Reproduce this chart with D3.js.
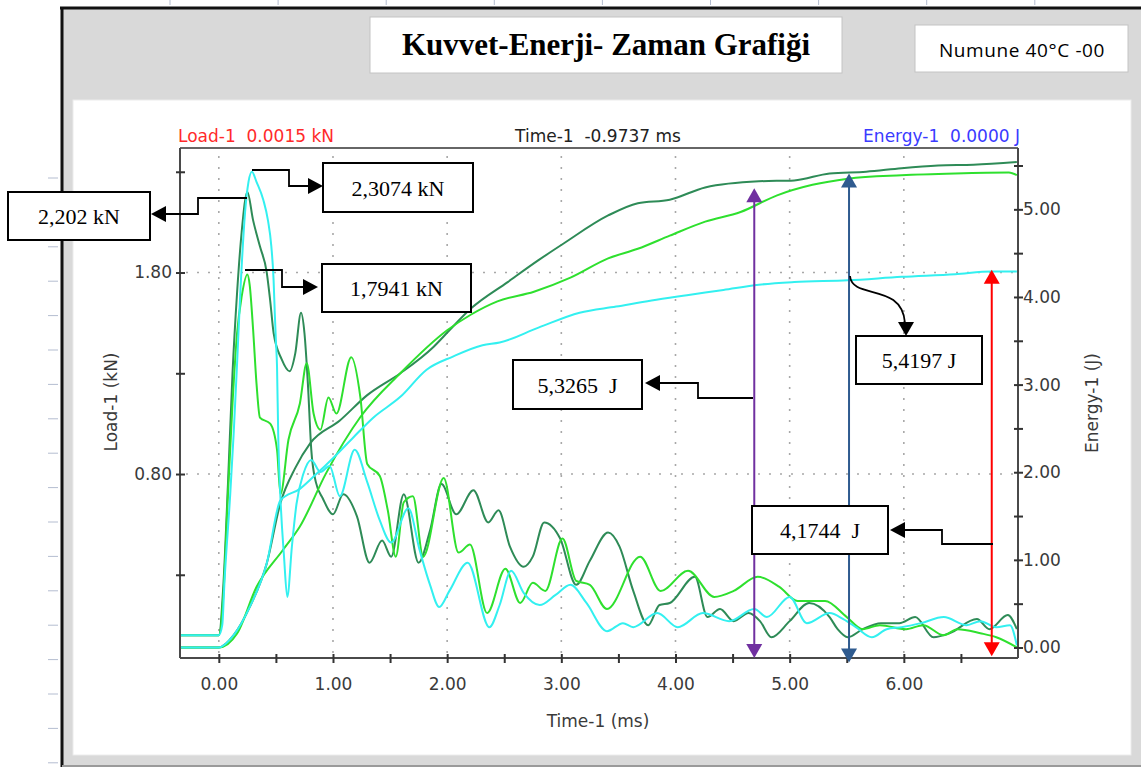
<!DOCTYPE html>
<html>
<head>
<meta charset="utf-8">
<script src="https://cdn.jsdelivr.net/npm/d3@7/dist/d3.min.js"></script>
<style>
  body { margin: 0; background: #fff; }
  svg text { font-family: "DejaVu Sans", sans-serif; }
  .pre { white-space: pre; }
</style>
</head>
<body>
<svg id="chart" width="1141" height="767"></svg>
<script>
// ticks
const timeTicks = [0, 1, 2, 3, 4, 5, 6];
const timeMinor = [0.5, 1.5, 2.5, 3.5, 4.5, 5.5, 6.5];
const loadTicks = [0.8, 1.8];
const loadMinor = [0.3, 1.3, 2.3];
const energyTicks = [0, 1, 2, 3, 4, 5];
const energyMinor = [0.5, 1.5, 2.5, 3.5, 4.5, 5.5];

// load curves (kN) vs time (ms)
const darkLoadT = [-0.34, 0.00, 0.04, 0.08, 0.12, 0.16, 0.20, 0.25, 0.30, 0.36, 0.42, 0.45, 0.48, 0.55, 0.62, 0.67, 0.72, 0.75, 0.78, 0.81, 0.85, 0.91, 1.00, 1.09, 1.21, 1.32, 1.43, 1.51, 1.62, 1.75, 1.85, 1.95, 2.08, 2.23, 2.36, 2.45, 2.55, 2.67, 2.75, 2.85, 2.99, 3.13, 3.25, 3.41, 3.51, 3.63, 3.76, 3.86, 3.95, 4.17, 4.28, 4.39, 4.51, 4.64, 4.74, 4.84, 5.00, 5.17, 5.35, 5.42, 5.51, 5.64, 5.80, 5.96, 6.10, 6.26, 6.40, 6.64, 6.75, 6.91, 6.99];
const darkLoad  = [0.00, 0.00, 0.25, 0.75, 1.30, 1.70, 2.00, 2.20, 2.06, 1.93, 1.80, 1.66, 1.50, 1.37, 1.31, 1.40, 1.60, 1.50, 1.25, 0.92, 0.76, 0.68, 0.60, 0.70, 0.59, 0.36, 0.47, 0.39, 0.70, 0.36, 0.52, 0.75, 0.60, 0.72, 0.56, 0.62, 0.44, 0.34, 0.39, 0.56, 0.48, 0.25, 0.37, 0.51, 0.44, 0.22, 0.05, 0.15, 0.16, 0.29, 0.09, 0.13, 0.07, 0.11, 0.07, -0.01, 0.07, 0.16, 0.09, 0.03, -0.01, 0.03, 0.06, 0.06, 0.09, -0.01, 0.01, 0.08, 0.03, 0.10, 0.03];

const brightLoadT = [-0.34, 0.00, 0.04, 0.08, 0.12, 0.16, 0.20, 0.25, 0.27, 0.30, 0.33, 0.36, 0.45, 0.51, 0.54, 0.61, 0.71, 0.77, 0.83, 0.89, 0.96, 1.03, 1.16, 1.24, 1.30, 1.41, 1.48, 1.55, 1.62, 1.70, 1.79, 1.97, 2.10, 2.20, 2.35, 2.51, 2.64, 2.75, 2.86, 3.01, 3.13, 3.25, 3.40, 3.69, 3.87, 4.11, 4.34, 4.51, 4.72, 4.91, 5.07, 5.31, 5.50, 5.64, 5.79, 6.02, 6.17, 6.35, 6.47, 6.67, 6.81, 6.99];
const brightLoad  = [0.00, 0.00, 0.20, 0.70, 1.15, 1.50, 1.68, 1.79, 1.74, 1.52, 1.25, 1.08, 1.05, 0.92, 0.70, 0.97, 1.15, 1.35, 1.10, 1.02, 1.18, 1.10, 1.38, 1.18, 0.85, 0.79, 0.62, 0.39, 0.66, 0.69, 0.39, 0.78, 0.41, 0.45, 0.11, 0.33, 0.16, 0.26, 0.22, 0.48, 0.27, 0.25, 0.13, 0.39, 0.22, 0.32, 0.19, 0.22, 0.29, 0.24, 0.17, 0.17, 0.09, 0.03, 0.05, 0.03, 0.05, 0.00, 0.03, 0.01, -0.01, -0.06];

const cyanLoadT = [-0.34, 0.00, 0.03, 0.05, 0.10, 0.13, 0.16, 0.19, 0.23, 0.26, 0.29, 0.33, 0.39, 0.43, 0.46, 0.48, 0.49, 0.50, 0.51, 0.52, 0.54, 0.57, 0.60, 0.64, 0.68, 0.74, 0.81, 0.89, 0.97, 1.06, 1.19, 1.30, 1.41, 1.51, 1.66, 1.76, 1.85, 1.93, 2.02, 2.18, 2.37, 2.46, 2.56, 2.67, 2.81, 2.95, 3.08, 3.22, 3.40, 3.54, 3.63, 3.84, 4.02, 4.24, 4.47, 4.69, 4.80, 5.00, 5.15, 5.35, 5.47, 5.58, 5.72, 5.85, 5.98, 6.15, 6.35, 6.55, 6.67, 6.81, 6.93, 6.99];
const cyanLoad  = [0.00, 0.00, 0.05, 0.27, 0.70, 1.00, 1.35, 1.72, 2.10, 2.25, 2.30, 2.25, 2.16, 2.06, 1.93, 1.76, 1.60, 1.46, 1.33, 1.00, 0.68, 0.40, 0.19, 0.44, 0.65, 0.80, 0.87, 0.81, 0.84, 0.69, 0.92, 0.76, 0.57, 0.46, 0.63, 0.42, 0.25, 0.14, 0.22, 0.36, 0.04, 0.15, 0.32, 0.21, 0.15, 0.20, 0.25, 0.16, 0.02, 0.06, 0.04, 0.11, 0.04, 0.11, 0.07, 0.13, 0.09, 0.19, 0.06, 0.11, 0.08, 0.04, -0.01, 0.03, 0.04, 0.06, 0.09, 0.05, 0.07, 0.04, 0.05, -0.05];

// energy curves (J) vs time (ms)
const darkEnergyT = [-0.34, 0.00, 0.13, 0.27, 0.42, 0.54, 0.67, 0.80, 1.06, 1.30, 1.59, 1.88, 2.02, 2.21, 2.53, 2.80, 3.02, 3.41, 3.67, 3.95, 4.26, 4.73, 5.04, 5.35, 5.67, 5.98, 6.30, 6.61, 6.99];
const darkEnergy  = [0.00, 0.00, 0.14, 0.46, 0.96, 1.65, 2.05, 2.33, 2.59, 2.88, 3.13, 3.43, 3.62, 3.87, 4.17, 4.42, 4.61, 4.93, 5.07, 5.11, 5.25, 5.32, 5.33, 5.41, 5.43, 5.47, 5.50, 5.51, 5.54];

const brightEnergyT = [-0.34, 0.00, 0.16, 0.33, 0.56, 0.71, 0.94, 1.24, 1.59, 2.00, 2.21, 2.44, 2.76, 3.08, 3.41, 3.67, 3.95, 4.26, 4.57, 4.89, 5.20, 5.51, 5.98, 6.45, 6.92, 6.99];
const brightEnergy  = [0.00, 0.00, 0.16, 0.69, 1.11, 1.38, 1.99, 2.63, 3.13, 3.62, 3.80, 3.95, 4.06, 4.22, 4.44, 4.55, 4.70, 4.86, 4.97, 5.16, 5.28, 5.35, 5.39, 5.41, 5.42, 5.39];

const cyanEnergyT = [-0.34, 0.00, 0.13, 0.27, 0.42, 0.54, 0.71, 0.83, 1.00, 1.18, 1.35, 1.59, 1.82, 2.05, 2.31, 2.46, 2.80, 3.16, 3.48, 3.79, 4.10, 4.42, 4.73, 5.04, 5.51, 5.98, 6.45, 6.77, 6.99];
const cyanEnergy  = [0.00, 0.00, 0.14, 0.46, 0.96, 1.68, 1.81, 1.95, 2.16, 2.40, 2.62, 2.86, 3.17, 3.32, 3.45, 3.48, 3.65, 3.82, 3.89, 3.96, 4.02, 4.08, 4.14, 4.17, 4.19, 4.23, 4.26, 4.29, 4.29];

// marker arrows (time, energy at top tip, energy at bottom tip)
const arrowT    = [4.69, 5.52, 6.77];
const arrowTopE = [5.24, 5.41, 4.31];
const arrowBotE = [-0.12, -0.17, -0.10];
const arrowColors = ["#7030a0", "#2f5b8f", "#ff0000"];

const headerLabels = ["Load-1  0.0015 kN", "Time-1  -0.9737 ms", "Energy-1  0.0000 J"];
const noteLabels = ["2,202 kN", "2,3074 kN", "1,7941 kN", "5,3265  J", "5,4197 J", "4,1744  J"];

const svg = d3.select("#chart");
const plot = { left: 180, right: 1018, top: 148, bottom: 658 };

const x = d3.scaleLinear().domain([-0.34, 7.0]).range([plot.left, plot.right]);
const yL = d3.scaleLinear().domain([-0.113, 2.418]).range([plot.bottom, plot.top]);
const yE = d3.scaleLinear().domain([-0.12, 5.70]).range([plot.bottom, plot.top]);

// page frame (document ruler ticks, grey panel)
svg.append("g").selectAll("line").data(d3.range(9)).enter().append("line")
  .attr("x1", d => 170 + d * 108.1).attr("x2", d => 170 + d * 108.1)
  .attr("y1", 0).attr("y2", 5).attr("stroke", "#b4bdd0");
svg.append("g").selectAll("line").data(d3.range(18)).enter().append("line")
  .attr("x1", 48).attr("x2", 58)
  .attr("y1", d => 178 + d * 34.4).attr("y2", d => 178 + d * 34.4).attr("stroke", "#b4bdd0");

svg.append("rect").attr("x", 62).attr("y", 8).attr("width", 1090).attr("height", 760).attr("fill", "#d9d9d9");
svg.append("line").attr("x1", 60).attr("x2", 1141).attr("y1", 8).attr("y2", 8).attr("stroke", "#111").attr("stroke-width", 3);
svg.append("line").attr("x1", 62).attr("x2", 62).attr("y1", 7).attr("y2", 767).attr("stroke", "#111").attr("stroke-width", 3);
svg.append("line").attr("x1", 62).attr("x2", 1141).attr("y1", 766).attr("y2", 766).attr("stroke", "#9a9a9a").attr("stroke-width", 2);
svg.append("rect").attr("x", 73).attr("y", 100).attr("width", 1058).attr("height", 655)
  .attr("fill", "#fff").attr("stroke", "#ececec");

// title boxes
svg.append("rect").attr("x", 370).attr("y", 17).attr("width", 472).attr("height", 56)
  .attr("fill", "#fff").attr("stroke", "#c4c4c4");
svg.append("text").attr("x", 606).attr("y", 55).attr("text-anchor", "middle")
  .style("font-family", "'Liberation Serif', serif").style("font-weight", "bold")
  .style("font-size", "31px").text("Kuvvet-Enerji- Zaman Grafiği");
svg.append("rect").attr("x", 915).attr("y", 25).attr("width", 213).attr("height", 47)
  .attr("fill", "#fff").attr("stroke", "#c4c4c4");
svg.append("text").attr("x", 1022).attr("y", 57).attr("text-anchor", "middle")
  .style("font-family", "'Open Sans', sans-serif").style("font-size", "19px")
  .style("letter-spacing", "0.6px").text("Numune 40°C -00");

// header readouts
svg.append("text").attr("class", "pre").attr("x", 178).attr("y", 142).attr("fill", "#ff2a2a")
  .style("font-size", "17px").text(headerLabels[0]);
svg.append("text").attr("class", "pre").attr("x", 598).attr("y", 142).attr("text-anchor", "middle")
  .attr("fill", "#222").style("font-size", "17px").text(headerLabels[1]);
svg.append("text").attr("class", "pre").attr("x", 1020).attr("y", 142).attr("text-anchor", "end")
  .attr("fill", "#3a3aff").style("font-size", "17px").text(headerLabels[2]);

// grid
const grid = svg.append("g").attr("stroke", "#a8a8a8").attr("stroke-width", 1.6).attr("stroke-dasharray", "2,9");
grid.selectAll(".gv").data(timeTicks).enter().append("line")
  .attr("x1", d => x(d)).attr("x2", d => x(d)).attr("y1", plot.top + 8).attr("y2", plot.bottom - 4);
grid.selectAll(".gh").data(loadTicks).enter().append("line")
  .attr("x1", plot.left + 6).attr("x2", plot.right - 4).attr("y1", d => yL(d)).attr("y2", d => yL(d));

// curves
svg.append("clipPath").attr("id", "clip").append("rect")
  .attr("x", plot.left).attr("y", plot.top).attr("width", plot.right - plot.left).attr("height", plot.bottom - plot.top);
const curves = svg.append("g").attr("clip-path", "url(#clip)").attr("fill", "none").attr("stroke-width", 2);
const lineL = d3.line().x(d => x(d[0])).y(d => yL(d[1])).curve(d3.curveMonotoneX);
const lineE = d3.line().x(d => x(d[0])).y(d => yE(d[1])).curve(d3.curveMonotoneX);
const zip = (a, b) => a.map((t, i) => [t, b[i]]);

const series = [
  { color: "#2e8b57", load: zip(darkLoadT, darkLoad), energy: zip(darkEnergyT, darkEnergy) },
  { color: "#2ee02e", load: zip(brightLoadT, brightLoad), energy: zip(brightEnergyT, brightEnergy) },
  { color: "#33f0f0", load: zip(cyanLoadT, cyanLoad), energy: zip(cyanEnergyT, cyanEnergy) }
];
series.forEach(s => {
  curves.append("path").attr("d", lineL(s.load)).attr("stroke", s.color);
  curves.append("path").attr("d", lineE(s.energy)).attr("stroke", s.color);
});

// frame lines
const frame = svg.append("g").attr("stroke", "#4a4a4a").attr("stroke-width", 2);
frame.append("line").attr("x1", plot.left).attr("x2", plot.right).attr("y1", plot.top).attr("y2", plot.top).attr("stroke", "#666");
frame.append("line").attr("x1", plot.left).attr("x2", plot.left).attr("y1", plot.top).attr("y2", plot.bottom);
frame.append("line").attr("x1", plot.right).attr("x2", plot.right).attr("y1", plot.top).attr("y2", plot.bottom);
frame.append("line").attr("x1", plot.left).attr("x2", plot.right).attr("y1", plot.bottom).attr("y2", plot.bottom);

// axes
function styleAxis(g, dir) {
  g.select(".domain").remove();
  g.selectAll(".tick line").attr("stroke", "#333").attr("stroke-width", 2);
  if (dir === "x") g.selectAll(".tick line").attr("y1", -4).attr("y2", 5);
  else g.selectAll(".tick line").attr("x1", -4).attr("x2", 5);
  g.selectAll("text").attr("fill", "#3a3a3a").style("font-size", "17px")
    .style("font-family", "'DejaVu Sans', sans-serif");
}
const fmt = d3.format(".2f");
svg.append("g").attr("transform", `translate(0,${plot.bottom})`)
  .call(d3.axisBottom(x).tickValues(timeMinor).tickFormat("").tickSize(5))
  .call(g => styleAxis(g, "x"));
svg.append("g").attr("transform", `translate(0,${plot.bottom})`)
  .call(d3.axisBottom(x).tickValues(timeTicks).tickFormat(fmt).tickSize(5).tickPadding(15))
  .call(g => styleAxis(g, "x"));
svg.append("g").attr("transform", `translate(${plot.left},0)`)
  .call(d3.axisLeft(yL).tickValues(loadMinor).tickFormat("").tickSize(4))
  .call(g => styleAxis(g, "y"));
svg.append("g").attr("transform", `translate(${plot.left},0)`)
  .call(d3.axisLeft(yL).tickValues(loadTicks).tickFormat(fmt).tickSize(4).tickPadding(4))
  .call(g => styleAxis(g, "y"));
svg.append("g").attr("transform", `translate(${plot.right},0)`)
  .call(d3.axisRight(yE).tickValues(energyMinor).tickFormat("").tickSize(5))
  .call(g => styleAxis(g, "y"));
svg.append("g").attr("transform", `translate(${plot.right},0)`)
  .call(d3.axisRight(yE).tickValues(energyTicks).tickFormat(fmt).tickSize(5).tickPadding(0))
  .call(g => styleAxis(g, "y"));

// axis titles
svg.append("text").attr("x", 598).attr("y", 727).attr("text-anchor", "middle")
  .attr("fill", "#3a3a3a").style("font-size", "17px").text("Time-1 (ms)");
svg.append("text").attr("transform", "translate(117,402) rotate(-90)").attr("text-anchor", "middle")
  .attr("fill", "#3a3a3a").style("font-size", "17px").text("Load-1 (kN)");
svg.append("text").attr("transform", "translate(1098,403) rotate(-90)").attr("text-anchor", "middle")
  .attr("fill", "#3a3a3a").style("font-size", "17px").text("Energy-1 (J)");

// vertical marker arrows
const arrows = svg.append("g");
arrowT.forEach((t, i) => {
  const ax = x(t), top = yE(arrowTopE[i]), bot = yE(arrowBotE[i]), c = arrowColors[i];
  arrows.append("line").attr("x1", ax).attr("x2", ax).attr("y1", top + 12).attr("y2", bot - 12)
    .attr("stroke", c).attr("stroke-width", 2);
  arrows.append("path").attr("d", `M${ax},${top} L${ax - 8},${top + 14} L${ax + 8},${top + 14} Z`).attr("fill", c);
  arrows.append("path").attr("d", `M${ax},${bot} L${ax - 8},${bot - 14} L${ax + 8},${bot - 14} Z`).attr("fill", c);
});

// callout boxes with connectors
const notes = [
  { box: [8, 192, 142, 48], path: "M247,198 H198 V214 H165", tip: [151, 214, "left"] },
  { box: [323, 163, 150, 49], path: "M252,170 H289 V186 H310", tip: [323, 186, "right"] },
  { box: [322, 264, 149, 48], path: "M245,270 H282 V287 H305", tip: [318, 287, "right"] },
  { box: [513, 360, 129, 49], path: "M753,398 H698 V383 H659", tip: [645, 383, "left"] },
  { box: [856, 336, 126, 48], path: "M850,276 C852,300 902,282 905,323", tip: [906, 336, "down"] },
  { box: [752, 506, 136, 48], path: "M993,544 H942 V530 H904", tip: [890, 530, "left"] }
];
const noteG = svg.append("g");
notes.forEach((n, i) => {
  noteG.append("path").attr("d", n.path).attr("fill", "none").attr("stroke", "#000").attr("stroke-width", 1.8);
  const [tx, ty, dir] = n.tip;
  let tri;
  if (dir === "left") tri = `M${tx},${ty} L${tx + 15},${ty - 8} L${tx + 15},${ty + 8} Z`;
  else if (dir === "right") tri = `M${tx},${ty} L${tx - 15},${ty - 8} L${tx - 15},${ty + 8} Z`;
  else tri = `M${tx},${ty} L${tx - 8},${ty - 14} L${tx + 8},${ty - 14} Z`;
  noteG.append("path").attr("d", tri).attr("fill", "#000");
  const [bx, by, bw, bh] = n.box;
  noteG.append("rect").attr("x", bx).attr("y", by).attr("width", bw).attr("height", bh)
    .attr("fill", "#fff").attr("stroke", "#000").attr("stroke-width", 2);
  noteG.append("text").attr("class", "pre").attr("x", bx + bw / 2).attr("y", by + bh / 2 + 8)
    .attr("text-anchor", "middle").style("font-family", "'Liberation Serif', serif")
    .style("font-size", "22px").attr("fill", "#000").text(noteLabels[i]);
});
</script>
</body>
</html>
